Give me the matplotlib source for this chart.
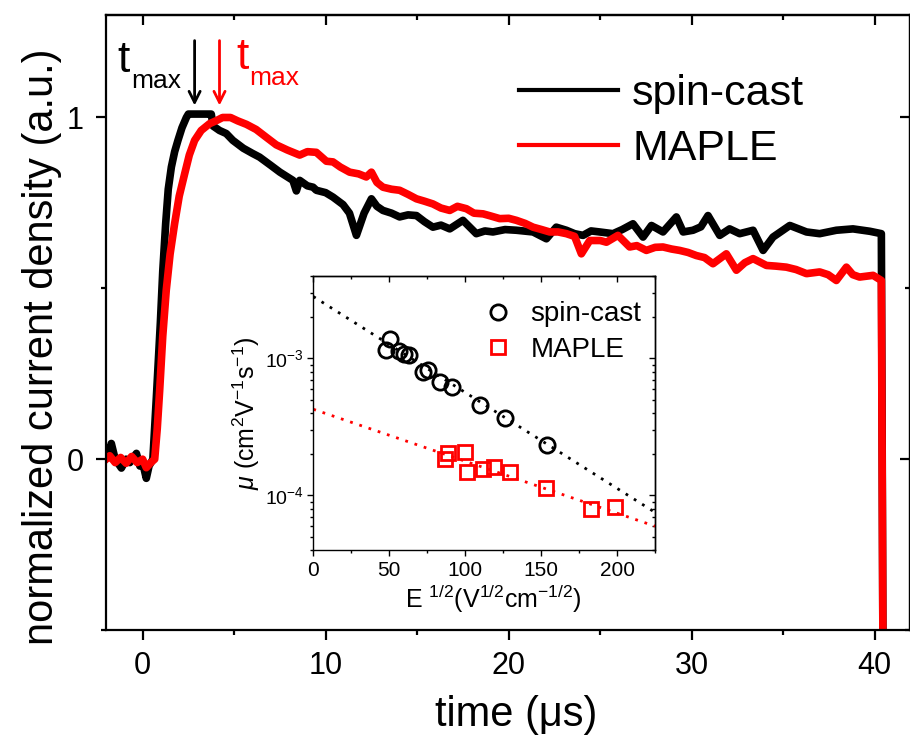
import matplotlib
matplotlib.use("Agg")
import matplotlib.pyplot as plt
from matplotlib.lines import Line2D
from matplotlib.ticker import MultipleLocator, LogLocator, NullFormatter

plt.rcParams["font.family"] = ["Liberation Sans", "DejaVu Sans"]
plt.rcParams["mathtext.fontset"] = "custom"
plt.rcParams["mathtext.rm"] = "Liberation Sans"
plt.rcParams["mathtext.it"] = "Liberation Sans:italic"
plt.rcParams["mathtext.bf"] = "Liberation Sans:bold"

# ── Transient photocurrent traces (normalized) ───────────────────────────────
spin_t = [-2.0, -1.85, -1.71, -1.5, -1.3, -1.16, -0.9, -0.7, -0.5, -0.34, -0.15, 0.0,
          0.2, 0.35, 0.56, 0.75, 0.97, 1.1, 1.26, 1.4, 1.57, 1.75, 1.93, 2.15, 2.39,
          2.5, 3.0, 3.5, 3.75, 3.85, 4.2, 4.57, 4.93, 5.5, 6.0, 6.39, 7.0, 7.5, 8.21,
          8.4, 8.58, 9.0, 9.31, 9.49, 10.0, 10.4, 10.95, 11.3, 11.68, 12.1, 12.5, 12.8,
          13.13, 13.6, 14.04, 14.5, 14.96, 15.4, 15.86, 16.3, 16.78, 17.5, 18.23, 18.7,
          19.14, 19.8, 20.42, 21.33, 22.06, 22.6, 23.15, 23.6, 24.06, 24.5, 24.97, 25.7,
          26.2, 26.79, 27.34, 27.8, 28.43, 29.16, 29.53, 30.07, 30.5, 30.89, 31.53,
          32.07, 32.62, 33.35, 33.9, 34.44, 35.36, 36.27, 36.99, 37.9, 38.81, 39.73,
          40.36, 40.45]
spin_j = [0.005, 0.02, 0.046, 0.0, -0.015, -0.026, 0.0, -0.01, 0.005, 0.017, -0.02, -0.01,
          -0.056, -0.02, 0.0, 0.18, 0.40, 0.55, 0.69, 0.79, 0.855, 0.90, 0.933, 0.97, 1.0,
          1.01, 1.01, 1.01, 1.01, 0.975, 0.962, 0.953, 0.933, 0.91, 0.895, 0.884, 0.86,
          0.84, 0.816, 0.785, 0.816, 0.80, 0.796, 0.787, 0.78, 0.767, 0.745, 0.72, 0.655,
          0.72, 0.762, 0.74, 0.728, 0.72, 0.709, 0.715, 0.713, 0.695, 0.679, 0.685, 0.674,
          0.699, 0.66, 0.668, 0.665, 0.672, 0.67, 0.665, 0.645, 0.679, 0.67, 0.66, 0.655,
          0.668, 0.665, 0.66, 0.672, 0.689, 0.65, 0.684, 0.665, 0.709, 0.665, 0.67, 0.68,
          0.713, 0.655, 0.674, 0.66, 0.67, 0.611, 0.65, 0.684, 0.665, 0.66, 0.67, 0.674,
          0.667, 0.66, -0.6]

maple_t = [-2.0, -1.8, -1.5, -1.2, -0.9, -0.6, -0.3, 0.0, 0.2, 0.45, 0.66, 0.8, 0.93,
           1.1, 1.29, 1.5, 1.75, 2.0, 2.30, 2.55, 2.84, 3.2, 3.66, 4.0, 4.37, 4.8, 5.2,
           5.67, 6.2, 6.76, 7.3, 7.9, 8.58, 9.0, 9.49, 10.04, 10.4, 10.8, 11.31, 11.8,
           12.22, 12.5, 12.8, 13.13, 13.6, 14.04, 14.5, 14.96, 15.4, 15.86, 16.3, 16.78,
           17.2, 17.69, 18.1, 18.6, 19.0, 19.51, 20.0, 20.42, 20.9, 21.33, 21.8, 22.24,
           22.7, 23.15, 23.6, 23.97, 24.43, 25.0, 25.34, 25.97, 26.61, 27.0, 27.52, 28.0,
           28.43, 28.9, 29.34, 29.8, 30.25, 30.7, 31.16, 31.89, 32.44, 32.9, 33.35, 34.08,
           34.6, 35.17, 35.7, 36.27, 36.99, 37.45, 37.9, 38.45, 38.8, 39.17, 39.91, 40.36,
           40.45]
maple_j = [0.0, 0.01, -0.01, 0.005, -0.012, 0.008, -0.01, 0.0, -0.025, -0.01, 0.0, 0.09,
           0.20, 0.36, 0.494, 0.60, 0.69, 0.77, 0.836, 0.89, 0.933, 0.962, 0.982, 0.99, 1.0,
           1.0, 0.99, 0.98, 0.965, 0.942, 0.92, 0.905, 0.89, 0.90, 0.898, 0.872, 0.87,
           0.855, 0.84, 0.835, 0.826, 0.84, 0.81, 0.796, 0.79, 0.787, 0.775, 0.762, 0.755,
           0.747, 0.735, 0.728, 0.74, 0.733, 0.72, 0.718, 0.712, 0.704, 0.705, 0.699, 0.69,
           0.679, 0.672, 0.665, 0.665, 0.66, 0.652, 0.601, 0.64, 0.64, 0.635, 0.655, 0.621,
           0.625, 0.611, 0.62, 0.621, 0.615, 0.611, 0.605, 0.596, 0.59, 0.572, 0.601, 0.553,
           0.575, 0.587, 0.567, 0.565, 0.562, 0.555, 0.543, 0.548, 0.54, 0.523, 0.562, 0.54,
           0.533, 0.538, 0.523, -0.6]

# transit times marked with arrows
tmax_spin = 2.84
tmax_maple = 4.2

# ── Field dependence of mobility (inset) ─────────────────────────────────────
spin_E = [50.6, 47.9, 56.7, 59.8, 63.3, 71.9, 75.4, 83.5, 91.2, 109.5, 126.4, 153.8]
spin_mu = [1.38e-3, 1.15e-3, 1.13e-3, 1.08e-3, 1.06e-3, 7.94e-4, 8.17e-4, 6.72e-4,
           6.18e-4, 4.56e-4, 3.69e-4, 2.35e-4]
maple_E = [86.8, 88.6, 99.6, 101.1, 111.6, 118.7, 129.2, 153.2, 183.1, 198.4]
maple_mu = [1.83e-4, 2.05e-4, 2.07e-4, 1.49e-4, 1.57e-4, 1.62e-4, 1.48e-4, 1.14e-4,
            8.0e-5, 8.3e-5]

# Poole-Frenkel fits, end points
fit_E = [0, 225]
spin_fit = [2.82e-3, 7.53e-5]
maple_fit = [4.25e-4, 5.97e-5]

RED = "#ff0000"


def mirror_ticks(a, xmaj, xmin, width, lmaj, lmin, log_y=False):
    """Outward ticks on bottom/left, inward ticks on top/right."""
    a.tick_params(which="both", top=False, right=False, direction="out", width=width)
    a.tick_params(which="major", length=lmaj)
    a.tick_params(which="minor", length=lmin)
    top = a.secondary_xaxis("top")
    right = a.secondary_yaxis("right")
    top.xaxis.set_major_locator(MultipleLocator(xmaj))
    top.xaxis.set_minor_locator(MultipleLocator(xmin))
    if log_y:
        right.yaxis.set_major_locator(LogLocator(base=10))
        right.yaxis.set_minor_locator(LogLocator(base=10, subs=range(2, 10)))
    else:
        right.yaxis.set_major_locator(a.yaxis.get_major_locator())
        right.yaxis.set_minor_locator(a.yaxis.get_minor_locator())
    for sec in (top, right):
        sec.tick_params(which="both", direction="in", width=width,
                        labeltop=False, labelright=False)
        sec.tick_params(which="major", length=lmaj)
        sec.tick_params(which="minor", length=lmin)
        for s in sec.spines.values():
            s.set_linewidth(width)


fig = plt.figure(figsize=(9.1, 7.38), dpi=100)
ax = fig.add_axes([0.1165, 0.1463, 0.8830, 0.8334])

ax.plot(spin_t, spin_j, color="black", lw=5.5, solid_joinstyle="round")
ax.plot(maple_t, maple_j, color=RED, lw=5.5, solid_joinstyle="round")

ax.set_xlim(-2, 41.9)
ax.set_ylim(-0.5, 1.3)
ax.xaxis.set_major_locator(MultipleLocator(10))
ax.xaxis.set_minor_locator(MultipleLocator(5))
ax.yaxis.set_major_locator(MultipleLocator(1))
ax.yaxis.set_minor_locator(MultipleLocator(0.5))

for s in ax.spines.values():
    s.set_linewidth(1.6)
ax.tick_params(labelsize=22)
ax.tick_params(axis="x", pad=8)
ax.tick_params(axis="y", pad=9)
mirror_ticks(ax, 10, 5, 1.6, 7, 3.5)

ax.set_xlabel("time (μs)", fontsize=30)
ax.set_ylabel("normalized current density (a.u.)", fontsize=30)
ax.xaxis.set_label_coords(0.51, -0.105)
ax.yaxis.set_label_coords(-0.055, 0.46)

# t_max labels and arrows
ax.text(-1.37, 1.132, "t", fontsize=32, color="black", ha="left", va="baseline")
ax.text(-0.6, 1.085, "max", fontsize=19, color="black", ha="left", va="baseline")
ax.text(5.14, 1.143, "t", fontsize=32, color=RED, ha="left", va="baseline")
ax.text(5.85, 1.095, "max", fontsize=19, color=RED, ha="left", va="baseline")
for tm, c in ((tmax_spin, "black"), (tmax_maple, RED)):
    ax.annotate("", xy=(tm, 1.035), xytext=(tm, 1.225),
                arrowprops=dict(arrowstyle="->,head_length=0.8,head_width=0.4",
                                color=c, lw=2, shrinkA=0, shrinkB=0))

handles = [Line2D([], [], color="black", lw=3), Line2D([], [], color=RED, lw=3)]
ax.legend(handles, ["spin-cast", "MAPLE"], loc="upper left",
          bbox_to_anchor=(0.514, 0.904), frameon=False, fontsize=31,
          handlelength=2.3, handletextpad=0.33, labelspacing=0.34,
          borderpad=0, borderaxespad=0)

# ── Inset ────────────────────────────────────────────────────────────────────
ins = fig.add_axes([0.3443, 0.2547, 0.3755, 0.3717])
ins.plot(fit_E, spin_fit, color="black", lw=2, ls=(0, (1, 2.5)))
ins.plot(fit_E, maple_fit, color=RED, lw=2, ls=(0, (1, 2.5)))
ins.plot(spin_E, spin_mu, ls="none", marker="o", ms=11, mfc="none", mec="black",
         mew=2, label="spin-cast")
ins.plot(maple_E, maple_mu, ls="none", marker="s", ms=10, mfc="none", mec=RED,
         mew=2, label="MAPLE")

ins.set_yscale("log")
ins.set_xlim(0, 225)
ins.set_ylim(4e-5, 4e-3)
ins.xaxis.set_major_locator(MultipleLocator(50))
ins.xaxis.set_minor_locator(MultipleLocator(25))
ins.yaxis.set_major_locator(LogLocator(base=10))
ins.yaxis.set_minor_locator(LogLocator(base=10, subs=range(2, 10)))
ins.yaxis.set_minor_formatter(NullFormatter())

for s in ins.spines.values():
    s.set_linewidth(1.0)
ins.tick_params(labelsize=15)
ins.tick_params(axis="y", labelsize=14, pad=2)
mirror_ticks(ins, 50, 25, 1.0, 4.5, 2.5, log_y=True)

ins.set_xlabel(r"E $^{1/2}$(V$^{1/2}$cm$^{-1/2}$)", fontsize=18)
ins.set_ylabel(r"$\mu$ (cm$^2$V$^{-1}$s$^{-1}$)", fontsize=18)
ins.xaxis.set_label_coords(0.526, -0.12)
ins.yaxis.set_label_coords(-0.15, 0.5)

ins.legend(loc="upper left", bbox_to_anchor=(0.5, 0.907), frameon=False, fontsize=20,
           handlelength=1.0, handletextpad=0.67, labelspacing=0.34,
           borderpad=0, borderaxespad=0)

fig.savefig("out.png", dpi=100)
